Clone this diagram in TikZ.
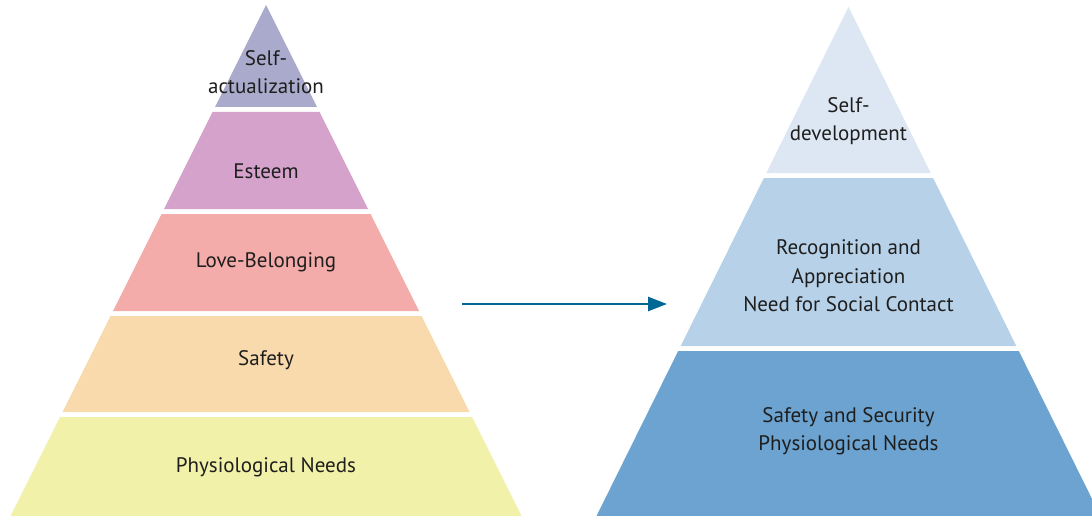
\documentclass[tikz,border=0pt]{standalone}
\usepackage{fontspec}
\setmainfont{PT Sans}
\usetikzlibrary{arrows.meta}
\definecolor{cSelf}{RGB}{170,170,204}
\definecolor{cEsteem}{RGB}{212,162,202}
\definecolor{cLove}{RGB}{243,172,170}
\definecolor{cSafety}{RGB}{249,218,172}
\definecolor{cPhys}{RGB}{242,241,170}
\definecolor{cTop}{RGB}{220,231,243}
\definecolor{cMid}{RGB}{182,209,232}
\definecolor{cBot}{RGB}{108,163,208}
\definecolor{cArrow}{RGB}{0,104,148}
\definecolor{cText}{RGB}{30,30,30}
\tikzset{
  tier/.style={draw=none},
  lbl/.style={align=center, text=cText, inner sep=0pt, font=\fontsize{21}{28.5}\selectfont},
  flow/.style={draw=cArrow, line width=2.6pt, -{Triangle[length=19pt,width=14pt]}}
}
\begin{document}
\begin{tikzpicture}[x=1pt,y=-1pt]
\useasboundingbox (0,0) rectangle (1092,516);
\clip (0,0) rectangle (1092,516);
\fill[white] (0,0) rectangle (1092,516);
% left pyramid
\fill[tier, cSelf]   (266,5) -- (317,107) -- (215,107) -- cycle;
\fill[tier, cEsteem] (212.5,112) -- (319.5,112) -- (368,209) -- (164,209) -- cycle;
\fill[tier, cLove]   (161.5,214) -- (370.5,214) -- (419,311) -- (113,311) -- cycle;
\fill[tier, cSafety] (110.5,316) -- (421.5,316) -- (469.5,412) -- (62.5,412) -- cycle;
\fill[tier, cPhys]   (60,417) -- (472,417) -- (521.5,516) -- (10.5,516) -- cycle;
% right pyramid
\fill[tier, cTop] (848.5,7) -- (930.7,173) -- (766.3,173) -- cycle;
\fill[tier, cMid] (763.9,178) -- (933.1,178) -- (1016.3,346) -- (680.7,346) -- cycle;
\fill[tier, cBot] (678.2,351) -- (1018.8,351) -- (1100.5,516) -- (596.5,516) -- cycle;
% labels
\node[lbl] (selfact) at (266,72) {Self-\\actualization};
\node[lbl] (esteem) at (266,171) {Esteem};
\node[lbl] (love) at (266,262) {Love-Belonging};
\node[lbl] (safety) at (266,360) {Safety};
\node[lbl] (phys) at (266,467) {Physiological Needs};
\node[lbl] (selfdev) at (848.5,121) {Self-\\development};
\node[lbl] (recog) at (848.5,276) {Recognition and\\Appreciation\\Need for Social Contact};
\node[lbl] (secur) at (848.5,431) {Safety and Security\\Physiological Needs};
% arrow
\coordinate (arrS) at (462,304);
\coordinate (arrE) at (667,304);
\draw[flow] (arrS) -- (arrE);
\end{tikzpicture}
\end{document}
